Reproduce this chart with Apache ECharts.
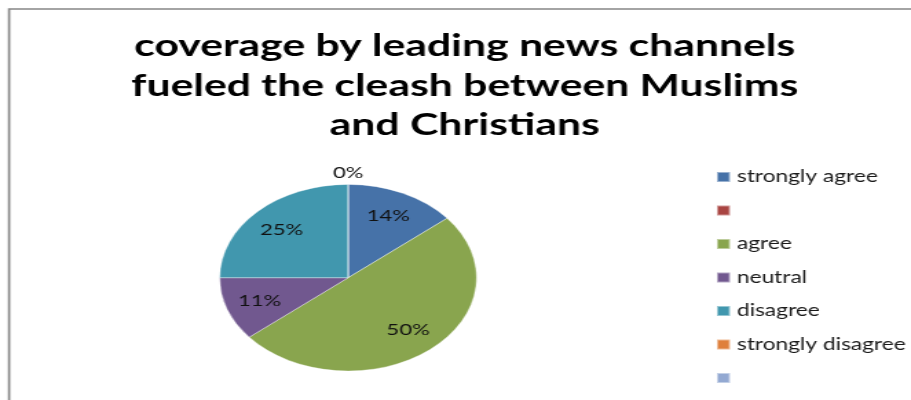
<!DOCTYPE html>
<html>
<head>
<meta charset="utf-8">
<script src="https://cdn.jsdelivr.net/npm/echarts@6/dist/echarts.min.js"></script>
<style>
  html, body { margin: 0; padding: 0; background: #fff; overflow: hidden; }
  #wrap { width: 911px; height: 400px; overflow: hidden; }
  /* the chart is laid out narrower and widened, giving the wide pie and text */
  #chart { width: 662px; height: 400px; transform: scaleX(1.3761); transform-origin: 0 0; }
</style>
</head>
<body>
<div id="wrap"><div id="chart"></div></div>
<script>
const titleText = 'coverage by leading news channels\nfueled the cleash between Muslims\nand Christians';
const categories = ['strongly agree', ' ', 'agree', 'neutral', 'disagree', 'strongly disagree', '  '];
const percents = [14, '-', 50, 11, 25, 0, '-'];
const colors = ['#4672a8', '#a94542', '#89a54e', '#71588f', '#4197ae', '#df803c', '#93a9d2'];

const chart = echarts.init(document.getElementById('chart'), null, { renderer: 'canvas' });

const sliceData = categories.map((name, i) => ({ name: name, value: percents[i] }));

// zero-valued slices get their label just outside the rim
const labelData = categories.map((name, i) => {
  const item = { name: name, value: percents[i] };
  if (percents[i] === 0) {
    item.label = { position: 'outside' };
    item.labelLine = { show: false, length: 2, length2: 0 };
  }
  return item;
});

const center = [253, 277.7];
const R = 93.3;

chart.setOption({
  animation: false,
  color: colors,
  graphic: [{
    type: 'rect',
    shape: { x: 6.6, y: 9, width: 700, height: 420 },
    style: { fill: 'none', stroke: '#878787', lineWidth: 1.7 },
    silent: true,
    z: 0
  }],
  title: {
    text: titleText,
    left: 337.7,
    top: 26.5,
    padding: 0,
    textAlign: 'center',
    textStyle: {
      fontFamily: 'Lato',
      fontWeight: 'bold',
      fontSize: 31,
      lineHeight: 39.5,
      color: '#000'
    }
  },
  legend: {
    orient: 'vertical',
    left: 520,
    top: 168.5,
    padding: 0,
    itemWidth: 9.5,
    itemHeight: 10,
    itemGap: 16.5,
    icon: 'rect',
    data: categories,
    textStyle: {
      fontFamily: 'Lato',
      fontSize: 16.5,
      lineHeight: 17,
      color: '#1a1a1a'
    },
    selectedMode: false
  },
  series: [
    {
      name: 'slices',
      type: 'pie',
      center: center,
      radius: [0, R],
      startAngle: 90,
      clockwise: true,
      data: sliceData,
      label: { show: false },
      labelLine: { show: false },
      itemStyle: { borderColor: 'rgba(255,255,255,0.45)', borderWidth: 0.8 },
      silent: true
    },
    {
      name: 'labels',
      type: 'pie',
      center: center,
      radius: [R * 0.4, R],
      startAngle: 90,
      clockwise: true,
      data: labelData,
      itemStyle: { color: 'rgba(0,0,0,0)', borderWidth: 0 },
      label: {
        show: true,
        position: 'inside',
        formatter: p => p.value + '%',
        fontFamily: 'Lato',
        fontSize: 16,
        color: '#111'
      },
      labelLine: { show: false },
      labelLayout: p => (percents[p.dataIndex] === 0 ? { align: 'center', dx: 5, dy: -10 } : {}),
      emphasis: { disabled: true },
      silent: true,
      z: 3
    }
  ]
});
</script>
</body>
</html>
